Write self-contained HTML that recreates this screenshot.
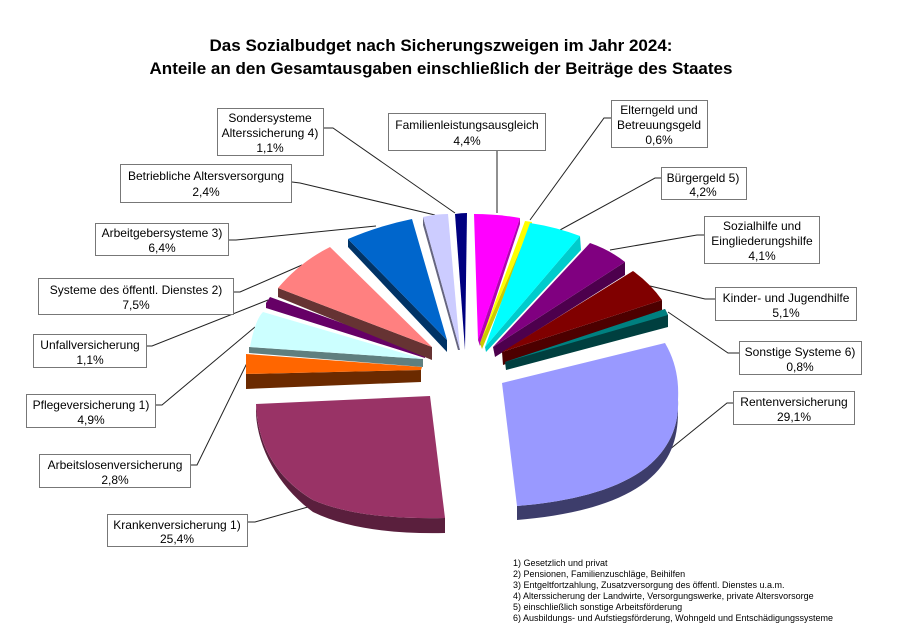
<!DOCTYPE html>
<html><head><meta charset="utf-8"><style>
body{margin:0;background:#fff;width:900px;height:643px;overflow:hidden}
svg{display:block;font-family:"Liberation Sans",Arial,sans-serif}
.l{font-size:12px;fill:#000;text-anchor:middle}
.f{font-size:9px;fill:#000}
rect.b{fill:#fff;stroke:#777;stroke-width:1}
line,polyline{stroke:#222;stroke-width:1;fill:none}
</style></head><body>
<svg width="900" height="643" viewBox="0 0 900 643">
<rect width="900" height="643" fill="#fff"/>
<text x="441" y="51" font-size="17" font-weight="bold" text-anchor="middle">Das Sozialbudget nach Sicherungszweigen im Jahr 2024:</text>
<text x="441" y="74" font-size="17" font-weight="bold" text-anchor="middle">Anteile an den Gesamtausgaben einschließlich der Beiträge des Staates</text>

<polyline points="323,128 333,128 455,213"/>
<polyline points="292,182 300,183 435,215"/>
<polyline points="228,240 236,240 376,226"/>
<polyline points="233,292 240,292 302,265"/>
<polyline points="146,346 152,346 268,300"/>
<polyline points="155,405 162,405 255,327"/>
<polyline points="190,465 197,465 247,363"/>
<polyline points="247,522 255,522 315,505"/>
<polyline points="497,150 497,213"/>
<polyline points="611,118 604,118 530,220"/>
<polyline points="661,178 655,178 560,230"/>
<polyline points="704,235 697,235 610,250"/>
<polyline points="715,299 705,299 650,286"/>
<polyline points="739,353 728,353 668,312"/>
<polyline points="733,403 727,403 648,467"/>

<!-- Renten -->
<path d="M517,506 C565,502 615,492 647,467 C670,448 679,425 678,400 L678,412 C678,440 670,462 647,481 C615,506 565,516 517,520 Z" fill="#3d3d6b"/>
<path d="M502,383 L665,343 C676,362 679,380 678,400 C679,425 670,448 647,467 C615,492 565,502 517,506 Z" fill="#9999ff"/>
<!-- Kranken -->
<path d="M256,404 L256,414 C258,450 280,488 313,512 C350,530 400,534 445,533 L445,518 C400,519 350,516 313,500 C280,480 258,450 256,404Z" fill="#5a1f3d"/>
<path d="M430,396 L256,404 C258,450 280,480 313,500 C350,516 400,519 445,518 Z" fill="#993366"/>
<!-- Arbeitslosen -->
<path d="M246,374 L421,370 L421,382 L246,389Z" fill="#6b2a00"/>
<path d="M246,354 L246,374 L421,370 L422,367Z" fill="#ff6600"/>
<!-- Pflege -->
<path d="M249,347 L423,359 L423,367 L249,353Z" fill="#5f7f7f"/>
<path d="M263,312 Q255,320 250,347 L423,359Z" fill="#ccffff"/>
<!-- Unfall -->
<path d="M270,297 L266,303 L266,308 L425,358 L425,353Z" fill="#660066"/>
<!-- Systeme -->
<path d="M278,288 L432,347 L432,360 L278,297Z" fill="#663333"/>
<path d="M278,288 Q300,262 330,247 L432,347Z" fill="#ff8080"/>
<!-- Arbeitgeber -->
<path d="M348,239 L348,247 L447,352 L447,340Z" fill="#003366"/>
<path d="M348,239 Q378,226 412,219 L447,340Z" fill="#0066cc"/>
<!-- Betriebliche -->
<path d="M423,217 L423,225 L458,350 L460,350Z" fill="#666680"/>
<path d="M423,217 Q435,214 448,214 L460,350Z" fill="#ccccff"/>
<!-- Sondersysteme -->
<path d="M455,214 Q461,213 467,213 L465,350Z" fill="#000080"/>
<!-- Familien -->
<path d="M474,214 Q497,214 520,218 L478,340Z" fill="#ff00ff"/>
<path d="M520,218 L520,224 L480,346 L478,340Z" fill="#b300b3"/>
<!-- Elterngeld -->
<path d="M532,222 L532,228 L482,349 L480,343Z" fill="#cccc00"/>
<path d="M525,221 L532,222 L480,343Z" fill="#ffff00"/>
<!-- Buergergeld -->
<path d="M580,236 L581,250 L486,352 L485,347Z" fill="#00cccc"/>
<path d="M530,223 Q556,227 580,236 L485,347Z" fill="#00ffff"/>
<!-- Sozialhilfe -->
<path d="M625,262 L625,275 L495,357 L493,347Z" fill="#4d004d"/>
<path d="M590,243 Q610,250 625,262 L493,347Z" fill="#800080"/>
<!-- Kinder -->
<path d="M662,300 L662,310 L503,365 L502,352Z" fill="#4d0000"/>
<path d="M633,271 Q650,283 662,300 L502,352Z" fill="#800000"/>
<!-- Sonstige -->
<path d="M665,309 L668,315 L668,327 L506,370 L505,362Z" fill="#003f3f"/>
<path d="M665,309 L668,315 L505,362Z" fill="#008080"/>

<rect class="b" x="217.5" y="108.5" width="106" height="47"/>
<text class="l" x="270" y="122">Sondersysteme</text><text class="l" x="270" y="137">Alterssicherung 4)</text><text class="l" x="270" y="152">1,1%</text>
<rect class="b" x="120.5" y="164.5" width="171" height="38"/>
<text class="l" x="206" y="180">Betriebliche  Altersversorgung</text><text class="l" x="206" y="196">2,4%</text>
<rect class="b" x="95.5" y="223.5" width="133" height="32"/>
<text class="l" x="162" y="237">Arbeitgebersysteme  3)</text><text class="l" x="162" y="252">6,4%</text>
<rect class="b" x="38.5" y="278.5" width="195" height="36"/>
<text class="l" x="136" y="294">Systeme des öffentl. Dienstes 2)</text><text class="l" x="136" y="309">7,5%</text>
<rect class="b" x="33.5" y="334.5" width="113" height="33"/>
<text class="l" x="90" y="349">Unfallversicherung</text><text class="l" x="90" y="364">1,1%</text>
<rect class="b" x="26.5" y="394.5" width="129" height="33"/>
<text class="l" x="91" y="409">Pflegeversicherung  1)</text><text class="l" x="91" y="424">4,9%</text>
<rect class="b" x="39.5" y="454.5" width="151" height="33"/>
<text class="l" x="115" y="469">Arbeitslosenversicherung</text><text class="l" x="115" y="484">2,8%</text>
<rect class="b" x="107.5" y="514.5" width="140" height="32"/>
<text class="l" x="177" y="529">Krankenversicherung  1)</text><text class="l" x="177" y="543">25,4%</text>
<rect class="b" x="388.5" y="113.5" width="157" height="37"/>
<text class="l" x="467" y="129">Familienleistungsausgleich</text><text class="l" x="467" y="145">4,4%</text>
<rect class="b" x="611.5" y="100.5" width="96" height="47"/>
<text class="l" x="659" y="114">Elterngeld  und</text><text class="l" x="659" y="129">Betreuungsgeld</text><text class="l" x="659" y="144">0,6%</text>
<rect class="b" x="661.5" y="167.5" width="85" height="32"/>
<text class="l" x="703" y="182">Bürgergeld 5)</text><text class="l" x="703" y="196">4,2%</text>
<rect class="b" x="704.5" y="216.5" width="115" height="47"/>
<text class="l" x="762" y="230">Sozialhilfe und</text><text class="l" x="762" y="245">Eingliederungshilfe</text><text class="l" x="762" y="260">4,1%</text>
<rect class="b" x="715.5" y="287.5" width="141" height="33"/>
<text class="l" x="786" y="302">Kinder-  und  Jugendhilfe</text><text class="l" x="786" y="317">5,1%</text>
<rect class="b" x="739.5" y="341.5" width="122" height="33"/>
<text class="l" x="800" y="356">Sonstige Systeme  6)</text><text class="l" x="800" y="371">0,8%</text>
<rect class="b" x="733.5" y="391.5" width="121" height="33"/>
<text class="l" x="794" y="406">Rentenversicherung</text><text class="l" x="794" y="421">29,1%</text>

<text class="f" x="513" y="566">1) Gesetzlich  und privat</text>
<text class="f" x="513" y="577">2) Pensionen,  Familienzuschläge,  Beihilfen</text>
<text class="f" x="513" y="588">3) Entgeltfortzahlung,  Zusatzversorgung  des öffentl. Dienstes  u.a.m.</text>
<text class="f" x="513" y="599">4) Alterssicherung  der Landwirte,  Versorgungswerke,  private  Altersvorsorge</text>
<text class="f" x="513" y="610">5) einschließlich  sonstige  Arbeitsförderung</text>
<text class="f" x="513" y="621">6) Ausbildungs-  und Aufstiegsförderung,  Wohngeld und Entschädigungssysteme</text>
</svg>
</body></html>
